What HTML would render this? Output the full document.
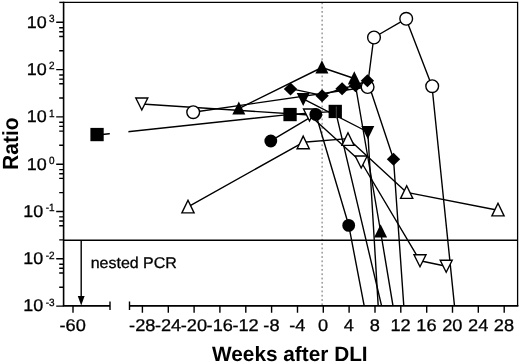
<!DOCTYPE html>
<html><head><meta charset="utf-8"><title>chart</title>
<style>
html,body{margin:0;padding:0;background:#fff;}
body{width:520px;height:364px;position:relative;overflow:hidden;font-family:"Liberation Sans",sans-serif;color:#000;}
svg{display:block;will-change:transform;}
svg text{font-family:"Liberation Sans",sans-serif;text-rendering:geometricPrecision;}
</style></head><body>
<svg width="520" height="364" viewBox="0 0 520 364" style="position:absolute;left:0;top:0">
<rect width="520" height="364" fill="#fff"/>
<line x1="322.1" y1="2.4" x2="322.1" y2="305.9" stroke="#666" stroke-width="1" stroke-dasharray="1.8 2.5"/>
<line x1="63.6" y1="240.2" x2="517.6" y2="240.2" stroke="#000" stroke-width="1.4"/>
<line x1="81.2" y1="240.2" x2="81.2" y2="298" stroke="#000" stroke-width="1.4"/>
<polygon points="77.8,296 84.6,296 81.2,305.5" fill="#000"/>
<g clip-path="url(#plot)">
<defs><clipPath id="plot"><rect x="63.6" y="2.4" width="454.0" height="303.5"/></clipPath></defs>
<polyline fill="none" stroke="#000" stroke-width="1.4" stroke-linejoin="round" points="97.5,135.0 290.4,114.4 335.6,111.4 381.6,305.9"/>
<polyline fill="none" stroke="#000" stroke-width="1.4" stroke-linejoin="round" points="141.8,104.0 309.5,115.0 361.2,162.0 420.0,260.8 446.2,266.3"/>
<polyline fill="none" stroke="#000" stroke-width="1.4" stroke-linejoin="round" points="193.0,112.2 367.4,87.0 373.8,37.5 406.0,18.8 432.0,86.2 454.5,305.9"/>
<polyline fill="none" stroke="#000" stroke-width="1.4" stroke-linejoin="round" points="238.8,108.6 321.9,67.5 354.3,78.5 380.6,231.5 393.0,305.9"/>
<polyline fill="none" stroke="#000" stroke-width="1.4" stroke-linejoin="round" points="290.5,88.6 322.1,95.4 342.1,88.4 355.5,85.5 367.4,80.5 393.5,159.0 403.8,305.9"/>
<polyline fill="none" stroke="#000" stroke-width="1.4" stroke-linejoin="round" points="270.8,140.8 315.8,114.2 348.7,225.2 364.2,305.9"/>
<polyline fill="none" stroke="#000" stroke-width="1.4" stroke-linejoin="round" points="188.0,206.8 303.2,142.3 348.0,138.6 406.7,192.4 498.0,210.2"/>
<polyline fill="none" stroke="#000" stroke-width="1.4" stroke-linejoin="round" points="303.2,98.8 367.8,132.0 378.2,305.9"/>
<rect x="109.8" y="120" width="18.6" height="25" fill="#fff"/>
</g>
<rect x="90.4" y="127.9" width="13.3" height="13.3" fill="#000"/>
<rect x="283.4" y="107.9" width="13.3" height="13.3" fill="#000"/>
<rect x="328.6" y="104.8" width="13.3" height="13.3" fill="#000"/>
<line x1="336.3" y1="106.5" x2="336.3" y2="118" stroke="#777" stroke-width="0.6"/>
<polygon points="141.8,110.0 135.8,98.0 147.8,98.0" fill="#fff" stroke="#000" stroke-width="1.4" stroke-linejoin="miter"/>
<polygon points="309.5,121.0 303.5,109.0 315.5,109.0" fill="#fff" stroke="#000" stroke-width="1.4" stroke-linejoin="miter"/>
<polygon points="361.2,168.0 355.2,156.0 367.2,156.0" fill="#fff" stroke="#000" stroke-width="1.4" stroke-linejoin="miter"/>
<polygon points="420.0,266.8 414.0,254.8 426.0,254.8" fill="#fff" stroke="#000" stroke-width="1.4" stroke-linejoin="miter"/>
<polygon points="446.2,272.3 440.2,260.3 452.2,260.3" fill="#fff" stroke="#000" stroke-width="1.4" stroke-linejoin="miter"/>
<circle cx="193.2" cy="112.2" r="6.35" fill="#fff" stroke="#000" stroke-width="1.4"/>
<circle cx="367.59999999999997" cy="87" r="6.35" fill="#fff" stroke="#000" stroke-width="1.4"/>
<circle cx="374.0" cy="37.5" r="6.35" fill="#fff" stroke="#000" stroke-width="1.4"/>
<circle cx="406.2" cy="18.8" r="6.35" fill="#fff" stroke="#000" stroke-width="1.4"/>
<circle cx="432.2" cy="86.2" r="6.35" fill="#fff" stroke="#000" stroke-width="1.4"/>
<polygon points="238.8,101.4 232.3,114.5 245.3,114.5" fill="#000"/>
<polygon points="321.9,60.3 315.4,73.4 328.4,73.4" fill="#000"/>
<polygon points="354.3,71.3 347.8,84.4 360.8,84.4" fill="#000"/>
<polygon points="380.6,224.3 374.1,237.4 387.1,237.4" fill="#000"/>
<polygon points="290.5,82.39999999999999 297.2,88.89999999999999 290.5,95.39999999999999 283.8,88.89999999999999" fill="#000"/>
<polygon points="322.1,89.2 328.8,95.7 322.1,102.2 315.40000000000003,95.7" fill="#000"/>
<polygon points="342.1,82.2 348.8,88.7 342.1,95.2 335.40000000000003,88.7" fill="#000"/>
<polygon points="355.5,79.3 362.2,85.8 355.5,92.3 348.8,85.8" fill="#000"/>
<polygon points="367.4,74.3 374.09999999999997,80.8 367.4,87.3 360.7,80.8" fill="#000"/>
<polygon points="393.5,152.8 400.2,159.3 393.5,165.8 386.8,159.3" fill="#000"/>
<circle cx="270.8" cy="141.0" r="6.4" fill="#000"/>
<circle cx="315.8" cy="114.4" r="6.4" fill="#000"/>
<circle cx="348.7" cy="225.39999999999998" r="6.4" fill="#000"/>
<polygon points="188.0,200.3 181.9,212.9 194.1,212.9" fill="#fff" stroke="#000" stroke-width="1.4" stroke-linejoin="miter"/>
<polygon points="303.2,136.1 297.1,148.7 309.3,148.7" fill="#fff" stroke="#000" stroke-width="1.4" stroke-linejoin="miter"/>
<polygon points="348.0,132.8 341.9,145.4 354.1,145.4" fill="#fff" stroke="#000" stroke-width="1.4" stroke-linejoin="miter"/>
<polygon points="406.7,185.8 400.6,198.4 412.8,198.4" fill="#fff" stroke="#000" stroke-width="1.4" stroke-linejoin="miter"/>
<polygon points="498.0,203.3 491.9,215.9 504.1,215.9" fill="#fff" stroke="#000" stroke-width="1.4" stroke-linejoin="miter"/>
<polygon points="303.2,106.0 296.7,92.9 309.7,92.9" fill="#000"/>
<polygon points="367.8,139.2 361.3,126.1 374.3,126.1" fill="#000"/>
<path d="M59.300000000000004,2.4 H63.6" stroke="#000" stroke-width="1.4"/>
<path d="M63.6,305.9 V1.75" fill="none" stroke="#000" stroke-width="1.6"/>
<path d="M63.6,2.4 H517.6 V305.9" fill="none" stroke="#000" stroke-width="1.3" stroke-linejoin="miter"/>
<path d="M62.800000000000004,305.9 H110 M129.5,305.9 H518.4" fill="none" stroke="#000" stroke-width="1.6"/>
<path d="M110,301.5 V310 M129.5,301.5 V310" stroke="#000" stroke-width="1.4" fill="none"/>
<path d="M56.2,306.1 H63.6 M59.2,287.2 H63.6 M59.2,273.0 H63.6 M59.2,268.3 H63.6 M59.2,264.2 H63.6 M56.2,258.8 H63.6 M59.2,239.9 H63.6 M59.2,225.7 H63.6 M59.2,221.0 H63.6 M59.2,216.9 H63.6 M56.2,211.5 H63.6 M59.2,192.6 H63.6 M59.2,178.4 H63.6 M59.2,173.7 H63.6 M59.2,169.6 H63.6 M56.2,164.2 H63.6 M59.2,145.3 H63.6 M59.2,131.1 H63.6 M59.2,126.4 H63.6 M59.2,122.3 H63.6 M56.2,116.9 H63.6 M59.2,98.0 H63.6 M59.2,83.8 H63.6 M59.2,79.1 H63.6 M59.2,75.0 H63.6 M56.2,69.6 H63.6 M59.2,50.7 H63.6 M59.2,36.5 H63.6 M59.2,31.8 H63.6 M59.2,27.7 H63.6 M56.2,22.3 H63.6" stroke="#000" stroke-width="1.4" fill="none"/>
<path d="M73,305.9 V312.8 M142.4,305.9 V312.8 M168.3,305.9 V312.8 M194.1,305.9 V312.8 M219.9,305.9 V312.8 M245.8,305.9 V312.8 M271.6,305.9 V312.8 M297.5,305.9 V312.8 M323.3,305.9 V312.8 M349.1,305.9 V312.8 M375.0,305.9 V312.8 M400.8,305.9 V312.8 M426.7,305.9 V312.8 M452.5,305.9 V312.8 M478.3,305.9 V312.8 M504.2,305.9 V312.8" stroke="#000" stroke-width="1.4" fill="none"/>
<g fill="#000">
<text transform="translate(54.60,305.90) scale(0.95,1)" font-size="10.5" text-anchor="end" stroke="#000" stroke-width="0.3">-3</text>
<text transform="translate(43.33,311.40) scale(1.055,1)" font-size="17" text-anchor="end" stroke="#000" stroke-width="0.3">10</text>
<text transform="translate(54.60,258.60) scale(0.95,1)" font-size="10.5" text-anchor="end" stroke="#000" stroke-width="0.3">-2</text>
<text transform="translate(43.33,264.10) scale(1.055,1)" font-size="17" text-anchor="end" stroke="#000" stroke-width="0.3">10</text>
<text transform="translate(54.60,211.30) scale(0.95,1)" font-size="10.5" text-anchor="end" stroke="#000" stroke-width="0.3">-1</text>
<text transform="translate(43.33,216.80) scale(1.055,1)" font-size="17" text-anchor="end" stroke="#000" stroke-width="0.3">10</text>
<text transform="translate(54.60,164.00) scale(0.95,1)" font-size="10.5" text-anchor="end" stroke="#000" stroke-width="0.3">0</text>
<text transform="translate(46.65,169.50) scale(1.055,1)" font-size="17" text-anchor="end" stroke="#000" stroke-width="0.3">10</text>
<text transform="translate(54.60,116.70) scale(0.95,1)" font-size="10.5" text-anchor="end" stroke="#000" stroke-width="0.3">1</text>
<text transform="translate(46.65,122.20) scale(1.055,1)" font-size="17" text-anchor="end" stroke="#000" stroke-width="0.3">10</text>
<text transform="translate(54.60,69.40) scale(0.95,1)" font-size="10.5" text-anchor="end" stroke="#000" stroke-width="0.3">2</text>
<text transform="translate(46.65,74.90) scale(1.055,1)" font-size="17" text-anchor="end" stroke="#000" stroke-width="0.3">10</text>
<text transform="translate(54.60,22.10) scale(0.95,1)" font-size="10.5" text-anchor="end" stroke="#000" stroke-width="0.3">3</text>
<text transform="translate(46.65,27.60) scale(1.055,1)" font-size="17" text-anchor="end" stroke="#000" stroke-width="0.3">10</text>
<text transform="translate(142.22,331.10) scale(1.07,1)" font-size="17" text-anchor="middle" stroke="#000" stroke-width="0.3">-28</text>
<text transform="translate(168.06,331.10) scale(1.07,1)" font-size="17" text-anchor="middle" stroke="#000" stroke-width="0.3">-24</text>
<text transform="translate(193.90,331.10) scale(1.07,1)" font-size="17" text-anchor="middle" stroke="#000" stroke-width="0.3">-20</text>
<text transform="translate(219.74,331.10) scale(1.07,1)" font-size="17" text-anchor="middle" stroke="#000" stroke-width="0.3">-16</text>
<text transform="translate(245.58,331.10) scale(1.07,1)" font-size="17" text-anchor="middle" stroke="#000" stroke-width="0.3">-12</text>
<text transform="translate(271.42,331.10) scale(1.07,1)" font-size="17" text-anchor="middle" stroke="#000" stroke-width="0.3">-8</text>
<text transform="translate(297.26,331.10) scale(1.07,1)" font-size="17" text-anchor="middle" stroke="#000" stroke-width="0.3">-4</text>
<text transform="translate(323.10,331.10) scale(1.07,1)" font-size="17" text-anchor="middle" stroke="#000" stroke-width="0.3">0</text>
<text transform="translate(348.94,331.10) scale(1.07,1)" font-size="17" text-anchor="middle" stroke="#000" stroke-width="0.3">4</text>
<text transform="translate(374.78,331.10) scale(1.07,1)" font-size="17" text-anchor="middle" stroke="#000" stroke-width="0.3">8</text>
<text transform="translate(400.62,331.10) scale(1.07,1)" font-size="17" text-anchor="middle" stroke="#000" stroke-width="0.3">12</text>
<text transform="translate(426.46,331.10) scale(1.07,1)" font-size="17" text-anchor="middle" stroke="#000" stroke-width="0.3">16</text>
<text transform="translate(452.30,331.10) scale(1.07,1)" font-size="17" text-anchor="middle" stroke="#000" stroke-width="0.3">20</text>
<text transform="translate(478.14,331.10) scale(1.07,1)" font-size="17" text-anchor="middle" stroke="#000" stroke-width="0.3">24</text>
<text transform="translate(503.98,331.10) scale(1.07,1)" font-size="17" text-anchor="middle" stroke="#000" stroke-width="0.3">28</text>
<text transform="translate(72.60,331.10) scale(1.07,1)" font-size="17" text-anchor="middle" stroke="#000" stroke-width="0.3">-60</text>
<text transform="translate(90.70,267.80) scale(1.03,1)" font-size="15.5" text-anchor="start" stroke="#000" stroke-width="0.3">nested PCR</text>
<text transform="translate(212.00,360.80)" font-size="20.8" text-anchor="start" font-weight="bold">Weeks after DLI</text>
<text transform="translate(18.30,170.00) rotate(-90) scale(1,1.04)" font-size="21.1" text-anchor="start" font-weight="bold">Ratio</text>
</g>
</svg>
</body></html>
